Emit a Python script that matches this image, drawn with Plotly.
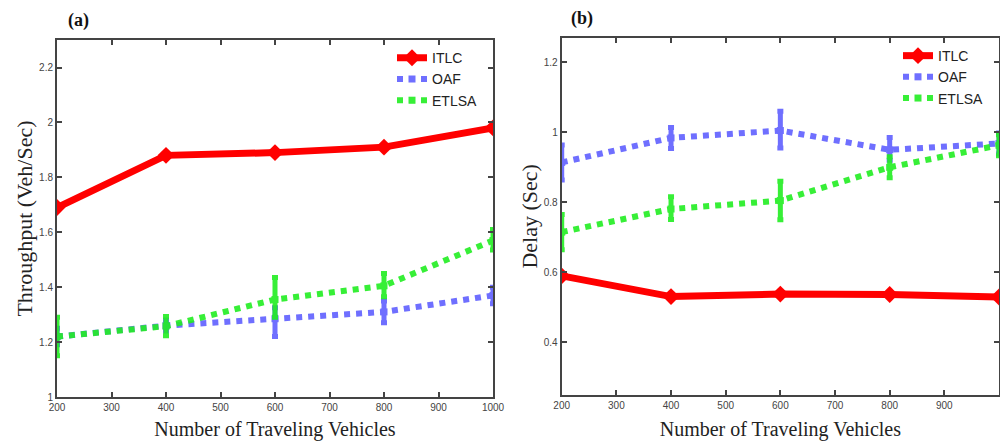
import plotly.graph_objects as go
from plotly.subplots import make_subplots

vehicles = [200, 400, 600, 800, 1000]

# (a) Throughput (Veh/Sec)
thr_itlc = [1.69, 1.88, 1.89, 1.91, 1.98]
thr_oaf = [1.22, 1.26, 1.285, 1.31, 1.37]
thr_oaf_up = [0.03, 0.02, 0.04, 0.04, 0.03]
thr_oaf_dn = [0.03, 0.02, 0.065, 0.04, 0.03]
thr_etlsa = [1.22, 1.258, 1.355, 1.405, 1.57]
thr_etlsa_up = [0.07, 0.035, 0.08, 0.045, 0.04]
thr_etlsa_dn = [0.07, 0.035, 0.065, 0.04, 0.035]

# (b) Delay (Sec)
del_itlc = [0.59, 0.531, 0.538, 0.537, 0.53]
del_oaf = [0.914, 0.984, 1.005, 0.95, 0.968]
del_oaf_up = [0.05, 0.03, 0.055, 0.035, 0.03]
del_oaf_dn = [0.05, 0.03, 0.05, 0.03, 0.03]
del_etlsa = [0.715, 0.781, 0.805, 0.9, 0.963]
del_etlsa_up = [0.05, 0.035, 0.055, 0.03, 0.03]
del_etlsa_dn = [0.05, 0.03, 0.055, 0.03, 0.03]

RED = "#ff0000"
BLUE = "#3333ff"
GREEN = "#22ee22"

fig = make_subplots(rows=1, cols=2)

def add_series(col, itlc, oaf, oaf_up, oaf_dn, etlsa, et_up, et_dn, legend):
    fig.add_trace(go.Scatter(
        x=vehicles, y=itlc, name="ITLC", mode="lines+markers",
        line=dict(color=RED, width=7),
        marker=dict(symbol="diamond", size=13, color=RED),
        legend=legend), row=1, col=col)
    fig.add_trace(go.Scatter(
        x=vehicles, y=oaf, name="OAF", mode="lines+markers",
        line=dict(color=BLUE, width=6, dash="dot"),
        marker=dict(symbol="square", size=7, color=BLUE),
        error_y=dict(type="data", symmetric=False, array=oaf_up, arrayminus=oaf_dn,
                     color=BLUE, thickness=5, width=3),
        opacity=0.7, legend=legend), row=1, col=col)
    fig.add_trace(go.Scatter(
        x=vehicles, y=etlsa, name="ETLSA", mode="lines+markers",
        line=dict(color=GREEN, width=6, dash="dot"),
        marker=dict(symbol="square", size=7, color=GREEN),
        error_y=dict(type="data", symmetric=False, array=et_up, arrayminus=et_dn,
                     color=GREEN, thickness=5, width=3),
        opacity=0.9, legend=legend), row=1, col=col)

add_series(1, thr_itlc, thr_oaf, thr_oaf_up, thr_oaf_dn, thr_etlsa, thr_etlsa_up, thr_etlsa_dn, "legend")
add_series(2, del_itlc, del_oaf, del_oaf_up, del_oaf_dn, del_etlsa, del_etlsa_up, del_etlsa_dn, "legend2")

axis_common = dict(
    showline=True, linecolor="#444444", linewidth=2, mirror="ticks",
    ticks="inside", ticklen=5, tickcolor="#444444", tickwidth=1.5,
    showgrid=False, zeroline=False, automargin=False,
    tickfont=dict(family="Liberation Sans, Arial", size=10, color="#444444"),
)
xtitle_font = dict(family="Liberation Serif, Times New Roman", size=20, color="#222222")
ytitle_font = dict(family="Liberation Serif, Times New Roman", size=22, color="#222222")

fig.update_xaxes(**axis_common, range=[200, 1000], tickvals=[200, 300, 400, 500, 600, 700, 800, 900, 1000],
                 title=dict(text="Number of Traveling Vehicles", font=xtitle_font, standoff=14))
fig.update_xaxes(domain=[0.049, 0.485], row=1, col=1)
fig.update_xaxes(domain=[0.5537, 0.991], row=1, col=2)
fig.update_yaxes(**axis_common)
fig.update_yaxes(range=[1, 2.3], tickvals=[1, 1.2, 1.4, 1.6, 1.8, 2, 2.2],
                 ticktext=["1", "1.2", "1.4", "1.6", "1.8", "2", "2.2"],
                 domain=[0.1016, 0.926],
                 title=dict(text="Throughput (Veh/Sec)", font=ytitle_font, standoff=0), row=1, col=1)
fig.update_yaxes(range=[0.25, 1.27], tickvals=[0.4, 0.6, 0.8, 1, 1.2],
                 ticktext=["0.4", "0.6", "0.8", "1", "1.2"],
                 domain=[0.1062, 0.9314],
                 title=dict(text="Delay (Sec)", font=ytitle_font, standoff=0), row=1, col=2)

legend_style = dict(xanchor="right", yanchor="top", bgcolor="rgba(0,0,0,0)",
                    font=dict(family="Liberation Sans, Arial", size=14, color="#222222"),
                    itemwidth=30, tracegroupgap=0)
fig.update_layout(
    width=1000, height=433,
    margin=dict(l=0, r=0, t=0, b=0, autoexpand=False),
    plot_bgcolor="white", paper_bgcolor="white",
    legend=dict(x=0.475, y=0.921, **legend_style),
    legend2=dict(x=0.981, y=0.926, **legend_style),
    annotations=[
        dict(text="<b>(a)</b>", x=0.070, y=0.972, xref="paper", yref="paper", showarrow=False,
             yanchor="middle", xanchor="center",
             font=dict(family="Liberation Serif, Times New Roman", size=18, color="#111111")),
        dict(text="<b>(b)</b>", x=0.5737, y=0.975, xref="paper", yref="paper", showarrow=False,
             yanchor="middle", xanchor="center",
             font=dict(family="Liberation Serif, Times New Roman", size=18, color="#111111")),
    ],
)

fig.write_html("out.html")
